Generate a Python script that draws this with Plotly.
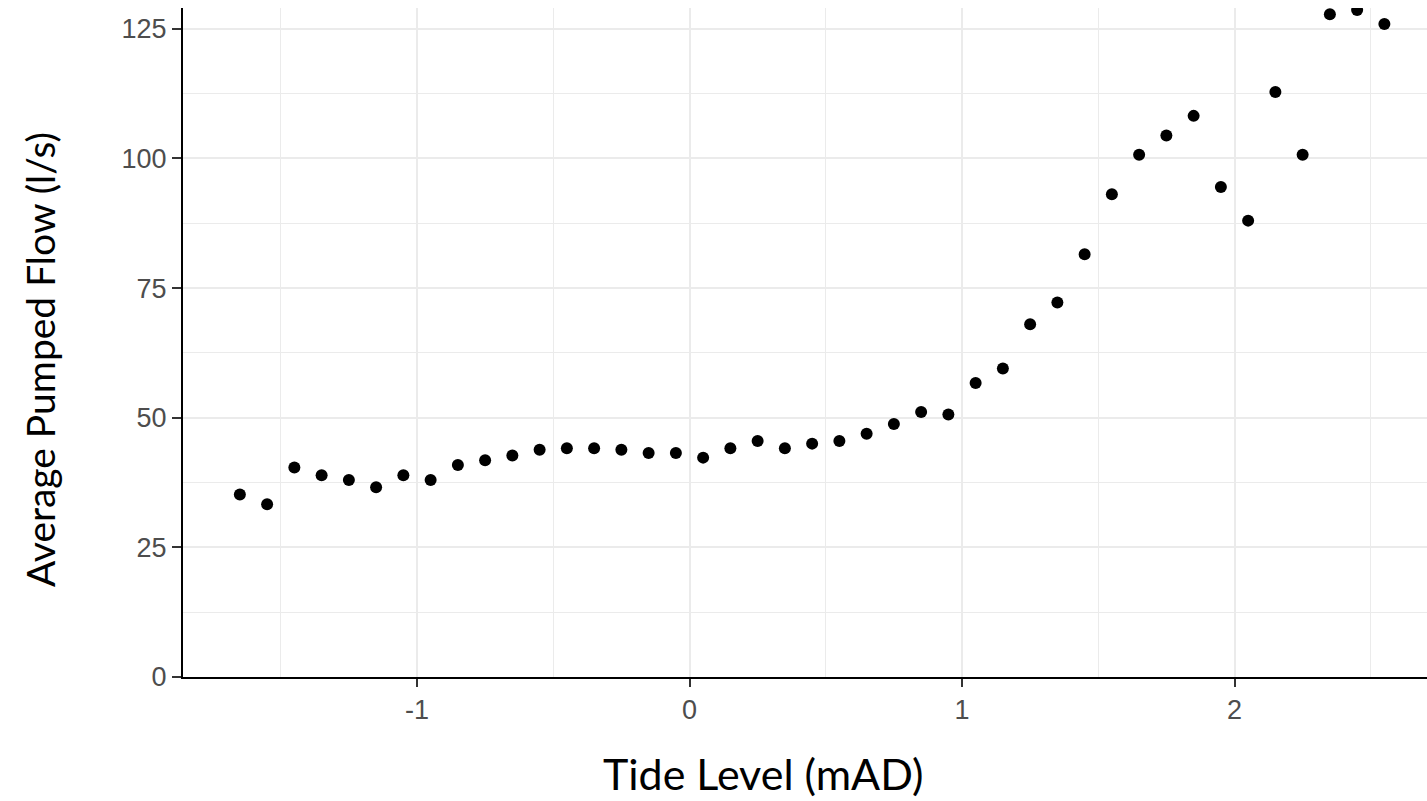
import plotly.graph_objects as go

# ---- data ----
tide_level = [-1.65, -1.55, -1.45, -1.35, -1.25, -1.15, -1.05, -0.95, -0.85, -0.75,
              -0.65, -0.55, -0.45, -0.35, -0.25, -0.15, -0.05, 0.05, 0.15, 0.25,
              0.35, 0.45, 0.55, 0.65, 0.75, 0.85, 0.95, 1.05, 1.15, 1.25,
              1.35, 1.45, 1.55, 1.65, 1.75, 1.85, 1.95, 2.05, 2.15, 2.25,
              2.35, 2.45, 2.55]
avg_pumped_flow = [35.2, 33.3, 40.4, 38.9, 38.0, 36.6, 38.9, 38.0, 40.9, 41.8,
                   42.7, 43.8, 44.1, 44.1, 43.8, 43.2, 43.2, 42.3, 44.1, 45.5,
                   44.1, 45.0, 45.5, 46.9, 48.8, 51.1, 50.6, 56.7, 59.5, 68.0,
                   72.2, 81.5, 93.1, 100.7, 104.4, 108.2, 94.5, 88.0, 112.8, 100.7,
                   127.8, 128.6, 125.9]
x_tick_vals = [-1, 0, 1, 2]
x_tick_text = ["-1", "0", "1", "2"]
x_minor_vals = [-1.5, -0.5, 0.5, 1.5, 2.5]
y_tick_vals = [0, 25, 50, 75, 100, 125]
y_tick_text = ["0", "25", "50", "75", "100", "125"]
y_minor_vals = [12.5, 37.5, 62.5, 87.5, 112.5]
x_title = "Tide Level (mAD)"
y_title = "Average Pumped Flow (l/s)"

# ---- layout geometry ----
W, H = 1427, 801
L, R, T, B = 183, 0, 8, 124
PW, PH = W - L - R, H - T - B

def px_x(px):
    return (px - L) / PW

def px_y(py):
    return (H - B - py) / PH

fig = go.Figure(
    go.Scatter(
        x=tide_level, y=avg_pumped_flow, mode="markers",
        marker=dict(color="black", size=12, line=dict(width=0)),
        cliponaxis=True, hoverinfo="x+y",
    )
)

grid_col = "#EBEBEB"
tick_font = dict(family="Liberation Sans, Arial, sans-serif", size=27, color="#4D4D4D")

fig.update_xaxes(
    range=[-1.8587, 2.7064],
    tickvals=x_tick_vals, ticktext=x_tick_text,
    showline=True, linecolor="black", linewidth=2,
    ticks="outside", ticklen=8, tickwidth=2, tickcolor="#333333",
    showgrid=True, gridcolor=grid_col, gridwidth=2,
    minor=dict(tickvals=x_minor_vals, showgrid=True, gridcolor=grid_col, gridwidth=1),
    zeroline=False, tickfont=tick_font,
)
fig.update_yaxes(
    range=[0, 129.0],
    tickvals=y_tick_vals, ticktext=y_tick_text,
    showline=True, linecolor="black", linewidth=2,
    ticks="outside", ticklen=9, tickwidth=2, tickcolor="#333333",
    showgrid=True, gridcolor=grid_col, gridwidth=2,
    minor=dict(tickvals=y_minor_vals, showgrid=True, gridcolor=grid_col, gridwidth=1),
    zeroline=False, tickfont=tick_font,
)

x_title_font = dict(family="Lato, Carlito, Calibri, sans-serif", size=43, color="black")
y_title_font = dict(family="Lato, Carlito, Calibri, sans-serif", size=39, color="black")
fig.update_layout(
    width=W, height=H,
    margin=dict(l=L, r=R, t=T, b=B, pad=0),
    plot_bgcolor="white", paper_bgcolor="white",
    showlegend=False,
    annotations=[
        dict(text=x_title, xref="paper", yref="paper",
             x=px_x(763), y=px_y(773), xanchor="center", yanchor="middle",
             showarrow=False, font=x_title_font),
        dict(text=y_title, xref="paper", yref="paper", textangle=-90,
             x=px_x(40), y=px_y(360), xanchor="center", yanchor="middle",
             showarrow=False, font=y_title_font),
    ],
)

fig.write_html("out.html")
